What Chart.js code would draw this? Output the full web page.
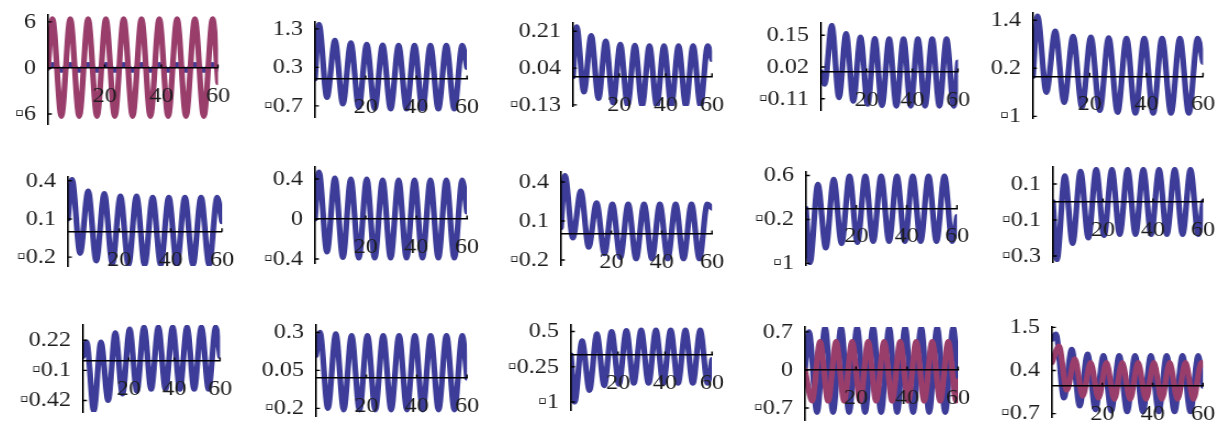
<!DOCTYPE html>
<html>
<head>
<meta charset="utf-8">
<script src="https://cdn.jsdelivr.net/npm/chart.js@4.4.1/dist/chart.umd.min.js"></script>
<style>
  html, body { margin: 0; padding: 0; background: #fff; }
  body { width: 1222px; height: 428px; overflow: hidden; position: relative; }
  .panel { position: absolute; transform-origin: 0 0; }
  .panel canvas { display: block; }
</style>
</head>
<body>
<script>
// Sample times: start, the successive extrema of the oscillation, end.
const tExt = [0, 1.57, 4.71, 7.85, 11.0, 14.14, 17.28, 20.42, 23.56, 26.7, 29.85,
              32.99, 36.13, 39.27, 42.41, 45.55, 48.69, 51.84, 54.98, 58.12, 60];
// Extrema times of the lagging (purple) traces.
const tLag = [0, 2.77, 5.91, 9.05, 12.2, 15.34, 18.48, 21.62, 24.76, 27.9, 31.05,
              34.19, 37.33, 40.47, 43.61, 46.75, 49.89, 53.04, 56.18, 59.32, 60];

const xTicks = [20, 40, 60];

// Panel values at the sample times.
const p1Red  = [0, 6.4,-6.3, 6.4,-6.3, 6.4,-6.3, 6.4,-6.3, 6.4,-6.3, 6.4,-6.3, 6.4,-6.3, 6.4,-6.3, 6.4,-6.3, 6.4, -1.9];
const p1Blue = [0, 0.45,-0.3, 0.45,-0.3, 0.45,-0.3, 0.45,-0.3, 0.45,-0.3, 0.45,-0.3, 0.45,-0.3, 0.45,-0.3, 0.45,-0.3, 0.45, -0.1];
const p2Blue = [0, 1.42,-0.48, 1.0,-0.65, 0.94,-0.74, 0.9,-0.77, 0.88,-0.78, 0.87,-0.78, 0.87,-0.78, 0.87,-0.78, 0.87,-0.78, 0.87, 0.3];
const p3Blue = [0, 0.23,-0.07, 0.19,-0.10, 0.165,-0.12, 0.15,-0.13, 0.145,-0.132, 0.142,-0.132, 0.142,-0.132, 0.142,-0.132, 0.142,-0.132, 0.142, 0.08];
const p4Blue = [0, -0.05,0.19, -0.105,0.157, -0.12,0.142, -0.132,0.136, -0.138,0.135, -0.14,0.135, -0.14,0.135, -0.14,0.135, -0.14,0.135, -0.14, 0.04];
const p5Blue = [0, 1.5,-0.4, 1.13,-0.65, 1.0,-0.77, 0.98,-0.85, 0.96,-0.9, 0.95,-0.92, 0.95,-0.92, 0.95,-0.92, 0.95,-0.92, 0.95, 0.35];
const p6Blue = [0.1, 0.41,-0.17, 0.32,-0.23, 0.30,-0.25, 0.28,-0.26, 0.28,-0.26, 0.27,-0.26, 0.27,-0.26, 0.27,-0.26, 0.27,-0.26, 0.27, 0.08];
const p7Blue = [0, 0.47,-0.33, 0.41,-0.385, 0.40,-0.39, 0.40,-0.39, 0.39,-0.39, 0.39,-0.39, 0.39,-0.39, 0.39,-0.39, 0.39,-0.39, 0.39, 0.07];
const p8Blue = [0.05, 0.45,-0.03, 0.33,-0.10, 0.24,-0.15, 0.23,-0.18, 0.23,-0.19, 0.23,-0.19, 0.23,-0.19, 0.23,-0.19, 0.23,-0.19, 0.23, 0.2];
const p9Blue = [0, -0.99,0.44, -0.72,0.53, -0.64,0.59, -0.62,0.59, -0.6,0.59, -0.6,0.59, -0.6,0.59, -0.6,0.59, -0.6,0.59, -0.6, -0.15];
const p10Blue = [0, -0.32,0.145, -0.23,0.17, -0.2,0.18, -0.185,0.18, -0.18,0.18, -0.18,0.18, -0.18,0.18, -0.18,0.18, -0.18,0.18, -0.18, 0.0];
const p11Blue = [0.05, 0.2,-0.53, 0.2,-0.42, 0.3,-0.35, 0.34,-0.32, 0.36,-0.3, 0.36,-0.3, 0.36,-0.3, 0.36,-0.3, 0.36,-0.3, 0.36, 0.05];
const p12Blue = [0.15, 0.3,-0.2, 0.29,-0.21, 0.28,-0.21, 0.28,-0.21, 0.28,-0.21, 0.28,-0.21, 0.28,-0.21, 0.28,-0.21, 0.28,-0.21, 0.28, 0.0];
const p13Blue = [0, -1.0,0.3, -0.75,0.45, -0.65,0.5, -0.62,0.52, -0.6,0.53, -0.6,0.53, -0.6,0.53, -0.6,0.53, -0.6,0.53, -0.6, -0.1];
const p14Blue = [0, 0.7,-0.78, 0.78,-0.78, 0.78,-0.78, 0.78,-0.78, 0.78,-0.78, 0.78,-0.78, 0.78,-0.78, 0.78,-0.78, 0.78,-0.78, 0.78, -0.2];
const p14Red  = [0, -0.57,0.52, -0.57,0.52, -0.57,0.52, -0.57,0.52, -0.57,0.52, -0.57,0.52, -0.57,0.52, -0.57,0.52, -0.57,0.52, -0.57, -0.2];
const p15Blue = [1.2, 1.33,-0.3, 0.94,-0.5, 0.82,-0.6, 0.78,-0.63, 0.78,-0.65, 0.78,-0.65, 0.78,-0.65, 0.78,-0.65, 0.78,-0.65, 0.78, 0.0];
const p15Red  = [0.6, 1.02,-0.1, 0.7,-0.25, 0.6,-0.3, 0.6,-0.33, 0.6,-0.33, 0.6,-0.33, 0.6,-0.33, 0.6,-0.33, 0.6,-0.33, 0.6, 0.55];

// Vertical tick values of each panel.
const p1Ticks = [-6, 0, 6];
const p2Ticks = [-0.7, 0.3, 1.3];
const p3Ticks = [-0.13, 0.04, 0.21];
const p4Ticks = [-0.11, 0.02, 0.15];
const p5Ticks = [-1, 0.2, 1.4];
const p6Ticks = [-0.2, 0.1, 0.4];
const p7Ticks = [-0.4, 0, 0.4];
const p8Ticks = [-0.2, 0.1, 0.4];
const p9Ticks = [-1, -0.2, 0.6];
const p10Ticks = [-0.3, -0.1, 0.1];
const p11Ticks = [-0.42, -0.1, 0.22];
const p12Ticks = [-0.2, 0.05, 0.3];
const p13Ticks = [-1, -0.25, 0.5];
const p14Ticks = [-0.7, 0, 0.7];
const p15Ticks = [-0.7, 0.4, 1.5];

const BLUE = '#3d3d99';
const PURPLE = '#993d6b';
const TEXT = '#1c1c1c';
const SX = 1.1;   // horizontal stretch of every panel
const MARGIN = 30; // room around each plot frame for labels

// Panel frames: y-axis x, x=60 x, top, bottom (page pixels) and value range.
const panels = [
  { ax: 48,   ex: 218,  ty: 15,  by: 124, ymin: -7.3,   ymax: 6.9,   ticks: p1Ticks,  series: [[tExt, p1Red, PURPLE], [tExt, p1Blue, BLUE]] },
  { ax: 315,  ex: 467,  ty: 22,  by: 117, ymin: -0.99,  ymax: 1.48,  ticks: p2Ticks,  series: [[tExt, p2Blue, BLUE]] },
  { ax: 573,  ex: 712,  ty: 23,  by: 106, ymin: -0.135, ymax: 0.248, ticks: p3Ticks,  series: [[tExt, p3Blue, BLUE]] },
  { ax: 821,  ex: 958,  ty: 23,  by: 110, ymin: -0.156, ymax: 0.20,  ticks: p4Ticks,  series: [[tExt, p4Blue, BLUE]] },
  { ax: 1033, ex: 1203, ty: 13,  by: 118, ymin: -1.04,  ymax: 1.58,  ticks: p5Ticks,  series: [[tExt, p5Blue, BLUE]] },
  { ax: 68,   ex: 222,  ty: 177, by: 266, ymin: -0.27,  ymax: 0.43,  ticks: p6Ticks,  series: [[tExt, p6Blue, BLUE]] },
  { ax: 315,  ex: 467,  ty: 167, by: 263, ymin: -0.44,  ymax: 0.52,  ticks: p7Ticks,  series: [[tExt, p7Blue, BLUE]] },
  { ax: 561,  ex: 712,  ty: 172, by: 265, ymin: -0.238, ymax: 0.477, ticks: p8Ticks,  series: [[tExt, p8Blue, BLUE]] },
  { ax: 806,  ex: 957,  ty: 172, by: 265, ymin: -1.03,  ymax: 0.665, ticks: p9Ticks,  series: [[tExt, p9Blue, BLUE]] },
  { ax: 1053, ex: 1203, ty: 167, by: 262, ymin: -0.333, ymax: 0.194, ticks: p10Ticks, series: [[tExt, p10Blue, BLUE]] },
  { ax: 83,   ex: 220,  ty: 325, by: 412, ymin: -0.543, ymax: 0.383, ticks: p11Ticks, series: [[tExt, p11Blue, BLUE]] },
  { ax: 316,  ex: 467,  ty: 325, by: 416, ymin: -0.25,  ymax: 0.349, ticks: p12Ticks, series: [[tExt, p12Blue, BLUE]] },
  { ax: 571,  ex: 712,  ty: 325, by: 410, ymin: -1.17,  ymax: 0.64,  ticks: p13Ticks, series: [[tExt, p13Blue, BLUE]] },
  { ax: 805,  ex: 958,  ty: 327, by: 420, ymin: -0.92,  ymax: 0.79,  ticks: p14Ticks, series: [[tLag, p14Red, PURPLE], [tExt, p14Blue, BLUE]] },
  { ax: 1052, ex: 1203, ty: 327, by: 417, ymin: -0.785, ymax: 1.51,  ticks: p15Ticks, series: [[tLag, p15Red, PURPLE], [tExt, p15Blue, BLUE]] }
];

const FONT = { family: '"Liberation Serif", "Times New Roman", serif', size: 22 };

// Negative labels carry a small box in place of the minus sign.
function tickText(v) {
  const s = String(Math.abs(v));
  return v < 0 ? '\u25AB' + s : s;
}

// Short inward tick marks on both axes.
const innerTicks = {
  id: 'innerTicks',
  afterDraw(chart) {
    const { ctx, scales: { x, y } } = chart;
    const x0 = x.getPixelForValue(0);
    const y0 = y.getPixelForValue(0);
    ctx.save();
    ctx.strokeStyle = '#000';
    ctx.lineWidth = 1.4;
    ctx.beginPath();
    y.ticks.forEach(t => {
      const py = y.getPixelForValue(t.value);
      ctx.moveTo(x0, py); ctx.lineTo(x0 + 3.5, py);
    });
    x.ticks.forEach(t => {
      const px = x.getPixelForValue(t.value);
      ctx.moveTo(px, y0); ctx.lineTo(px, y0 - 3.5);
    });
    ctx.stroke();
    ctx.restore();
  }
};

panels.forEach(p => {
  const left = p.ax - 78;
  const top = p.ty - MARGIN;
  const right = p.ex + 32;
  const bottom = p.by + MARGIN;
  const wInt = Math.round((right - left) / SX);
  const hInt = bottom - top;

  const box = document.createElement('div');
  box.className = 'panel';
  box.style.left = left + 'px';
  box.style.top = top + 'px';
  box.style.transform = 'scaleX(' + SX + ')';
  const cv = document.createElement('canvas');
  cv.width = wInt;
  cv.height = hInt;
  cv.style.width = wInt + 'px';
  cv.style.height = hInt + 'px';
  box.appendChild(cv);
  document.body.appendChild(box);

  const yAxisW = (p.ax - left) / SX;
  const padRight = wInt - yAxisW - (p.ex - p.ax) / SX;

  new Chart(cv, {
    type: 'line',
    data: {
      datasets: p.series.map(([ts, vals, color]) => ({
        data: ts.map((t, i) => ({ x: t, y: vals[i] })),
        borderColor: color,
        borderWidth: 5.2,
        pointRadius: 0,
        fill: false,
        cubicInterpolationMode: 'monotone',
        borderJoinStyle: 'round',
        borderCapStyle: 'round'
      }))
    },
    options: {
      responsive: false,
      animation: false,
      events: [],
      devicePixelRatio: 1,
      layout: { padding: { left: 0, top: MARGIN, right: padRight, bottom: MARGIN } },
      plugins: { legend: { display: false }, tooltip: { enabled: false } },
      scales: {
        x: {
          type: 'linear', min: 0, max: 60,
          position: { y: 0 },
          afterBuildTicks: s => { s.ticks = xTicks.map(v => ({ value: v })); },
          ticks: { padding: 15, font: FONT, color: TEXT, maxRotation: 0, autoSkip: false, z: 1,
                   callback: v => String(v) },
          grid: { drawOnChartArea: false, drawTicks: false },
          border: { color: '#000', width: 1.6, z: 1 }
        },
        y: {
          type: 'linear', min: p.ymin, max: p.ymax,
          position: 'left',
          afterBuildTicks: s => { s.ticks = p.ticks.map(v => ({ value: v })); },
          afterFit: s => { s.width = yAxisW; },
          ticks: { padding: 11, font: FONT, color: TEXT, z: 1, callback: v => tickText(v) },
          grid: { drawOnChartArea: false, drawTicks: false },
          border: { color: '#000', width: 1.6, z: 1 }
        }
      }
    },
    plugins: [innerTicks]
  });
});
</script>
</body>
</html>
